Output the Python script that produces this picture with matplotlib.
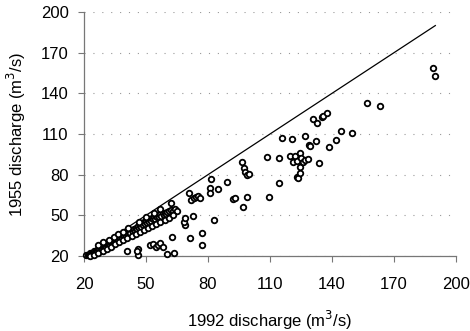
import numpy as np
import matplotlib.pyplot as plt

plt.rcParams['font.family'] = ['Liberation Sans', 'DejaVu Sans']

# dense band of points just under the 1:1 line
band_1992 = [21, 22, 22.5, 23, 23.5, 24, 24.5, 25, 25.5, 26, 26.5, 27, 27.5, 28, 28.5,
             29, 29.5, 30, 30.5, 31, 31.5, 32, 32.5, 33, 33.5, 34, 34.5, 35, 35.5, 36,
             36.5, 37, 37.5, 38, 38.5, 39, 39.5, 40, 40.5, 41, 41.5, 42, 42.5, 43, 43.5,
             44, 44.5, 45, 45.5, 46, 46.5, 47, 47.5, 48, 48.5, 49, 49.5, 50, 50.5, 51,
             51.5, 52, 52.5, 53, 53.5, 54, 54.5, 55, 55.5, 56, 56.5, 57, 57.5, 58, 58.5,
             59, 59.5, 60, 61, 62, 63, 64, 65,
             27, 29, 32, 34.5, 36.5, 39, 41.3, 46.8, 50, 53.9, 57, 62.1,
             # lower edge of the band
             23, 25, 27, 29, 31, 33, 35, 37, 39, 41, 43, 45, 47, 49, 51, 53, 55, 57,
             59, 61, 63]
band_1955 = [20.5, 21, 20.8, 22, 21.5, 22.5, 22, 23.5, 22.8, 24, 23.5, 25, 24.2, 26, 25,
             27, 26, 27.5, 26.5, 28.5, 27.5, 29, 28, 30.5, 29, 31, 30, 32, 31, 33,
             31.5, 34, 33, 35, 33.5, 35.5, 34.5, 36.5, 35, 37.5, 36, 38, 37, 39, 38,
             40, 38.5, 41, 40, 42, 40.5, 43, 41.5, 44, 42.5, 45, 43.5, 46, 44.5, 46.5,
             45, 47.5, 46, 48, 47, 49, 47.5, 49.5, 48.5, 50, 49, 51, 49.5, 51.5, 50.5,
             52, 51, 52.5, 53, 54, 53.5, 54.5, 53,
             28, 30, 32, 34, 36, 37.7, 40.5, 45.1, 48.5, 51.8, 55, 58.8,
             20.2, 21, 22.5, 24, 25.5, 27, 28.5, 30, 31.5, 33, 34.5, 36, 37.5, 39, 40.5,
             42, 43.5, 45, 46.5, 48, 50]

# scattered points further from the line
q1992 = [40.6, 45.9, 46.3, 45.6, 52, 53.5, 55, 55.8, 56.8, 58, 60, 63.7, 62.7, 71.3,
         77.2, 77.2, 68.9, 68.5, 69.1, 72.9, 83, 70.8, 72, 73, 74, 75, 76, 81.3, 81,
         81, 84.8, 89, 92.1, 93, 96.3, 97.5, 98, 99, 100, 98.7, 96.8, 108.4, 109.5,
         114.3, 114.5, 115.6, 119.7, 120.8, 121, 122, 123, 123.3, 123.6, 124.3, 124.5,
         124.5, 125, 126, 126.9, 127, 128.4, 128.9, 129.5, 130.9, 132.1, 132.9, 133.8,
         135, 135.8, 137.7, 138.5, 141.9, 144.3, 149.7, 156.8, 163.2, 188.7, 190]
q1955 = [23.7, 25.5, 21, 23.5, 28, 29.2, 27, 27.9, 29.6, 26.5, 21.5, 22.5, 34, 33.6,
         27.9, 37, 42.7, 45.3, 47.8, 49.8, 46.9, 66.6, 61.5, 62.5, 63.5, 64, 63, 76.5, 70,
         66.4, 69.3, 74.7, 62, 62.5, 89.5, 85, 82, 80, 80.5, 63.2, 55.8, 92.8, 63.2,
         74, 92.5, 107.3, 94, 106.3, 89.5, 94, 90, 78.6, 77.3, 81.4, 85.8,
         96.2, 92, 89, 108.5, 91, 91.2, 101.7, 101.2, 120.9, 104.8, 118.4, 88.3,
         122.4, 123.3, 125.3, 100.2, 105.6, 112.5, 111, 133.2, 131, 158.6, 152.9]

line_x = [20, 190]
ticks = [20, 50, 80, 110, 140, 170, 200]

fig = plt.figure(figsize=(4.7, 3.31), dpi=100)
ax = fig.add_axes([0.1787, 0.2266, 0.7915, 0.7371])

ax.plot(line_x, line_x, color='black', lw=0.9, zorder=2)
ax.scatter(band_1992 + q1992, band_1955 + q1955, s=16, facecolors='white',
           edgecolors='black', linewidths=1.3, zorder=3, clip_on=False)

ax.set_xlim(20, 200)
ax.set_ylim(20, 200)
ax.set_xticks(ticks)
ax.set_yticks(ticks)
ax.tick_params(labelsize=12, length=4, color='#777777')
ax.tick_params(axis='x', pad=11)
ax.tick_params(axis='y', pad=7)
ax.yaxis.grid(True, ls=(0, (1, 7)), color='#999999', lw=0.8)
ax.set_axisbelow(True)
for s in ['top', 'right']:
    ax.spines[s].set_visible(False)
for s in ['left', 'bottom']:
    ax.spines[s].set_color('#777777')
    ax.spines[s].set_linewidth(0.9)

ax.set_xlabel('1992 discharge (m$^3$/s)', fontsize=12, labelpad=12)
ax.set_ylabel('1955 discharge (m$^3$/s)', fontsize=12, labelpad=9)

fig.savefig('out.png', dpi=100)
